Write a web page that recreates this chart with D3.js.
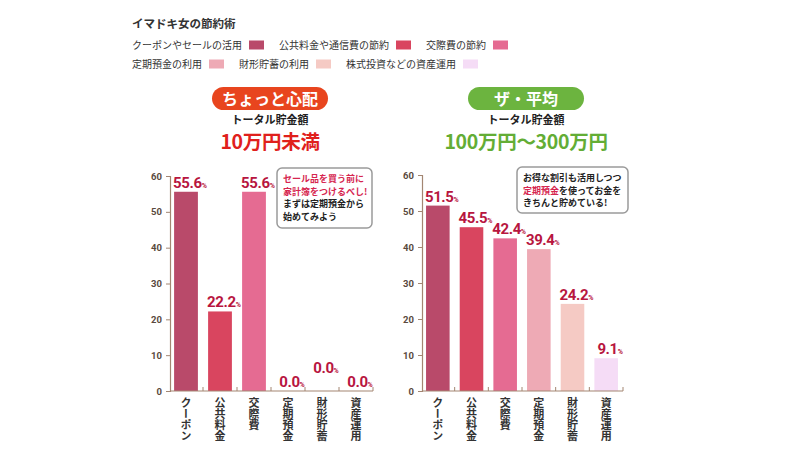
<!DOCTYPE html>
<html>
<head>
<meta charset="utf-8">
<script src="https://cdn.jsdelivr.net/npm/d3@7"></script>
<style>
  body { margin: 0; background: #fff; }
  svg { display: block; font-family: "Noto Sans CJK JP", "Noto Sans", sans-serif; }
</style>
</head>
<body>
<svg id="chart" width="800" height="450"></svg>
<script>
// data
var chartTitle = "イマドキ女の節約術";
var categories = ["クーポン", "公共料金", "交際費", "定期預金", "財形貯蓄", "資産運用"];
var legendLabels = ["クーポンやセールの活用", "公共料金や通信費の節約", "交際費の節約",
                    "定期預金の利用", "財形貯蓄の利用", "株式投資などの資産運用"];
var leftValues = [55.6, 22.2, 55.6, 0.0, 0.0, 0.0];
var rightValues = [51.5, 45.5, 42.4, 39.4, 24.2, 9.1];
var yTicks = [0, 10, 20, 30, 40, 50, 60];
var colors = ["#b94a6a", "#d9455f", "#e56b92", "#eeaab5", "#f5cac4", "#f5dcf6"];
var leftHeader = { badge: "ちょっと心配", sub: "トータル貯金額", amount: "10万円未満" };
var rightHeader = { badge: "ザ・平均", sub: "トータル貯金額", amount: "100万円〜300万円" };
var leftNote = [[["セール品を買う前に", "r"]], [["家計簿をつけるべし!", "r"]],
                [["まずは定期預金から", "k"]], [["始めてみよう", "k"]]];
var rightNote = [[["お得な割引も活用しつつ", "k"]], [["定期預金", "r"], ["を使ってお金を", "k"]],
                 [["きちんと貯めている!", "k"]]];

var svg = d3.select("#chart");
var labelRed = "#b8163f";
var axisColor = "#a38672";

// legend
svg.append("text").attr("x", 132).attr("y", 28)
  .attr("font-size", 11.5).attr("font-weight", 700).attr("fill", "#333")
  .text(chartTitle);

var lx = 132, ly = 49;
legendLabels.forEach(function (lab, i) {
  if (i === 3) { lx = 132; ly = 68; }
  var t = svg.append("text").attr("x", lx).attr("y", ly)
    .attr("font-size", 10).attr("fill", "#333").text(lab);
  var w = t.node().getComputedTextLength();
  svg.append("rect").attr("x", lx + w + 7).attr("y", ly - 8.5)
    .attr("width", 15).attr("height", 9).attr("fill", colors[i]);
  lx += w + 7 + 15 + 15;
});

function drawHeader(cx, h, badgeColor, amountColor) {
  var g = svg.append("g");
  g.append("rect").attr("x", cx - 58).attr("y", 87).attr("width", 116).attr("height", 23)
    .attr("rx", 11.5).attr("fill", badgeColor);
  g.append("text").attr("x", cx).attr("y", 105).attr("text-anchor", "middle")
    .attr("font-size", 16).attr("font-weight", 700).attr("fill", "#fff").text(h.badge);
  g.append("text").attr("x", cx).attr("y", 124).attr("text-anchor", "middle")
    .attr("font-size", 11).attr("font-weight", 700).attr("fill", "#222").text(h.sub);
  g.append("text").attr("x", cx).attr("y", 148.5).attr("text-anchor", "middle")
    .attr("font-size", 19.5).attr("font-weight", 700).attr("fill", amountColor)
    .attr("letter-spacing", -0.3).text(h.amount);
}

function drawNote(x, y, w, h, lines) {
  var g = svg.append("g");
  g.append("rect").attr("x", x).attr("y", y).attr("width", w).attr("height", h)
    .attr("rx", 5).attr("fill", "#fff").attr("stroke", "#9a9a9a").attr("stroke-width", 1.5);
  lines.forEach(function (parts, i) {
    var t = g.append("text").attr("x", x + 6).attr("y", y + 14 + i * 12.5)
      .attr("font-size", 9).attr("font-weight", 700);
    parts.forEach(function (p) {
      t.append("tspan").attr("fill", p[1] === "r" ? "#d6264f" : "#222").text(p[0]);
    });
  });
}

function drawPanel(values, x0, x1, yTop, labelShift) {
  var g = svg.append("g");
  var x = d3.scaleBand().domain(categories).range([x0, x1])
    .paddingInner(0.3).paddingOuter(0.15);
  var y = d3.scaleLinear().domain([0, 60]).range([391, yTop]);

  // y axis
  var ya = g.append("g").attr("transform", "translate(" + (x0 + 1) + ",0)")
    .call(d3.axisLeft(y).tickValues(yTicks).tickSize(4).tickPadding(4));
  ya.select(".domain").attr("stroke", axisColor).attr("stroke-width", 1.2);
  ya.selectAll(".tick line").attr("stroke", axisColor);
  ya.selectAll(".tick text").attr("fill", "#5a4a3e").attr("font-size", 9.5)
    .attr("font-weight", 700).attr("font-family", "Roboto, sans-serif");

  // bars
  g.selectAll(".bar").data(values).enter().append("rect")
    .attr("x", function (d, i) { return x(categories[i]); })
    .attr("y", function (d) { return y(d); })
    .attr("width", x.bandwidth())
    .attr("height", function (d) { return 391 - y(d); })
    .attr("fill", function (d, i) { return colors[i]; });

  // x axis line with small ticks between bands
  g.append("line").attr("x1", x0 + 1).attr("x2", x1).attr("y1", 391).attr("y2", 391)
    .attr("stroke", axisColor).attr("stroke-width", 1.2);
  categories.forEach(function (c, i) {
    var tx = x(c) + x.bandwidth() + x.step() * 0.15;
    g.append("line").attr("x1", tx).attr("x2", tx).attr("y1", 387).attr("y2", 391)
      .attr("stroke", axisColor);
  });

  // value labels
  values.forEach(function (d, i) {
    var cx = x(categories[i]) + x.bandwidth() / 2 + 4;
    var t = g.append("text").attr("x", cx).attr("y", y(d) - 4 - (labelShift[i] || 0))
      .attr("text-anchor", "middle").attr("fill", labelRed).attr("font-weight", 700)
      .attr("font-family", "Roboto, 'Noto Sans', sans-serif");
    t.append("tspan").attr("font-size", 15).attr("letter-spacing", -0.4).text(d.toFixed(1));
    t.append("tspan").attr("font-size", 7).text("%");
  });

  // vertical category labels
  categories.forEach(function (c) {
    g.append("text").attr("x", x(c) + x.bandwidth() / 2).attr("y", 397)
      .attr("font-size", 11).attr("font-weight", 700).attr("fill", "#333")
      .style("writing-mode", "vertical-rl").style("text-orientation", "upright")
      .text(c);
  });
}

drawHeader(270, leftHeader, "#e8451e", "#e0201c");
drawHeader(526, rightHeader, "#6cb43f", "#63ad35");

drawPanel(leftValues, 169, 373, 176, [0, 0, 0, 0, 14, 0]);
drawPanel(rightValues, 421, 623, 175, [0, 0, 0, 0, 0, 0]);

drawNote(277, 168, 95, 60, leftNote);
drawNote(517, 167, 111, 46, rightNote);
</script>
</body>
</html>
